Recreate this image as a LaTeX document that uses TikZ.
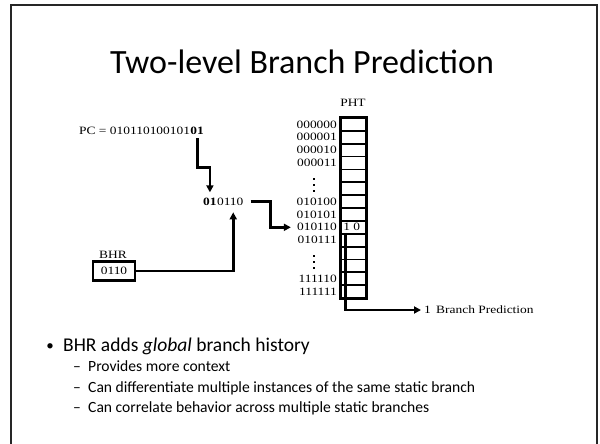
\documentclass[tikz,border=0pt]{standalone}
\usepackage{fontspec}
\setmainfont{Carlito}
\newfontfamily\tms[FakeStretch=1.2]{Liberation Serif}
\usetikzlibrary{arrows.meta,calc}
\begin{document}
\begin{tikzpicture}[x=1pt,y=-1pt,
  conn/.style={line width=2.6pt},
  arr/.style={conn,-{Triangle[length=7pt,width=7pt]}},
  tt/.style={font=\tms\fontsize{11.2}{13}\selectfont,inner sep=0pt},
  cell/.style={draw,line width=1.8pt,minimum width=25pt,minimum height=12.86pt,inner sep=0pt},
  rowlab/.style={tt,anchor=east},
  vdot/.style={fill,minimum size=2.4pt,inner sep=0pt},
  bigtext/.style={font=\fontsize{19.5}{23}\selectfont,anchor=base west,inner sep=0pt},
  subtext/.style={font=\fontsize{15.6}{18}\selectfont,anchor=base west,inner sep=0pt}]
\clip (0,0) rectangle (600,444);
\fill[white] (0,0) rectangle (600,444);
% slide frame
\draw[line width=2pt,black!85] (11,5) rectangle (597,470);

% title
\node[font=\fontsize{34}{40}\selectfont] (title) at (302,62) {Two-level Branch Prediction};

% pattern history table
\node[tt] (phtlab) at (353,103) {PHT};
\foreach \i in {0,...,13}
  \node[cell] (r\i) at (353.5,{118+12.86*\i+6.43}) {};
\draw[line width=2.4pt] (r0.north west) rectangle (r13.south east);
\node[tt,anchor=west] (ctr) at ([xshift=3pt]r8.west) {1 0};

% row indices
\foreach \i/\t in {0/000000,1/000001,2/000010,3/000011,6/010100,7/010101,8/010110,9/010111,12/111110,13/111111}
  \node[rowlab] (l\i) at ([xshift=-3pt]r\i.west) {\t};
\foreach \y [count=\k] in {179,185,191,256,262,268}
  \node[vdot] (d\k) at (314,\y) {};

% program counter and history register
\node[tt,anchor=base west] (pc) at (79,134) {PC = 010110100101};
\node[tt,anchor=base west] (pclow) at (pc.base east) {\textbf{01}};
\node[tt,anchor=base west] (idxhi) at (203,205) {\textbf{01}};
\node[tt,anchor=base west] (idxlo) at (idxhi.base east) {0110};
\node[tt] (bhrlab) at (113,255) {BHR};
\node[draw,line width=2.4pt,minimum width=42pt,minimum height=19pt,inner sep=0pt,font=\tms\fontsize{11.2}{13}\selectfont] (bhr) at (114,271) {0110};

% connectors
\draw[arr] ([yshift=-4pt]pclow.south) -- ++(0,29) -| ([yshift=5pt]idxhi.north);
\draw[arr] (bhr.east) -| ([xshift=3pt,yshift=-7pt]idxlo.south);
\draw[arr] ([xshift=7pt]idxlo.east) -- ([xshift=27pt]idxlo.east) |- ([xshift=-6pt]l8.west);

% prediction output
\coordinate (bit) at ([xshift=-8pt]r9.north);
\node[tt,anchor=west] (one) at (424,310) {1};
\node[tt,anchor=west] (predlab) at (436,310) {Branch Prediction};
\draw[line width=2.6pt] (bit) -- ([xshift=-8pt]r13.south);
\draw[arr] ([xshift=-8pt]r13.south) |- ([xshift=-3pt]one.west);

% bullets
\node[font=\fontsize{15}{18}\selectfont,anchor=base] (dot1) at (50,350) {•};
\node[bigtext] (b1) at (63,351) {BHR adds \textit{global} branch history};
\node[subtext] (s1d) at (73,371) {–};
\node[subtext] (s1) at (88,371) {Provides more context};
\node[subtext] (s2d) at (73,392) {–};
\node[subtext] (s2) at (88,392) {Can differentiate multiple instances of the same static branch};
\node[subtext] (s3d) at (73,412) {–};
\node[subtext] (s3) at (88,412) {Can correlate behavior across multiple static branches};
\end{tikzpicture}
\end{document}
